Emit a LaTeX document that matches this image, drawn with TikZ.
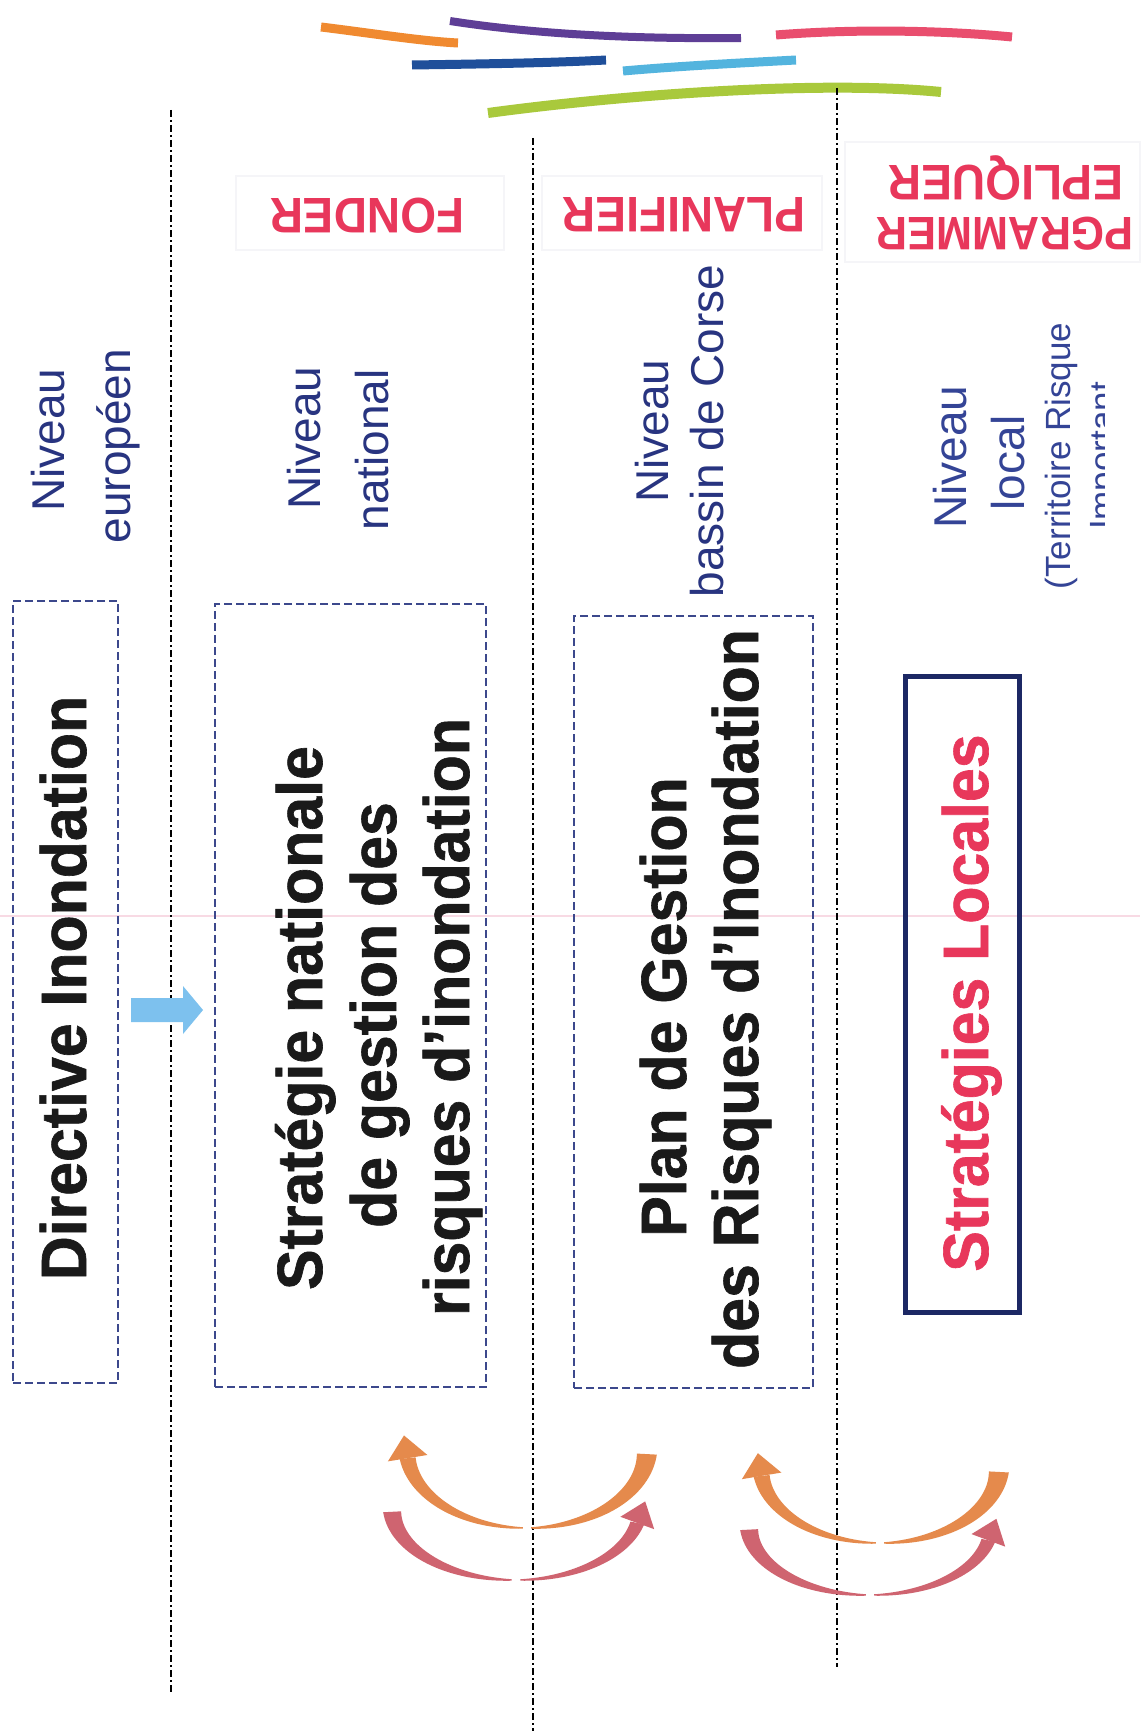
\documentclass[tikz,border=0pt]{standalone}
\usepackage{fontspec}
\setmainfont{Liberation Sans}
\newfontfamily\condf[FakeStretch=0.95,FakeBold=1]{Liberation Sans}
\newfontfamily\headf[FakeStretch=0.92]{Liberation Sans}
\usetikzlibrary{calc}
\definecolor{navy}{RGB}{40,52,128}
\definecolor{navyl}{RGB}{52,68,150}
\definecolor{boxnavy}{RGB}{60,72,140}
\definecolor{solidnavy}{RGB}{28,40,100}
\definecolor{redt}{RGB}{232,55,91}
\definecolor{txtblack}{RGB}{26,26,26}
\definecolor{arrblue}{RGB}{125,193,238}
\definecolor{arcorange}{RGB}{229,138,76}
\definecolor{arcrose}{RGB}{207,100,112}
\definecolor{sorange}{RGB}{240,138,48}
\definecolor{spurple}{RGB}{94,62,150}
\definecolor{spink}{RGB}{233,78,110}
\definecolor{sdblue}{RGB}{31,79,154}
\definecolor{slblue}{RGB}{83,180,222}
\definecolor{sgreen}{RGB}{169,201,60}
\definecolor{pinkfaint}{RGB}{248,218,228}
\definecolor{framefaint}{RGB}{245,245,248}
% tapered elliptic arc: cx cy rx ry t0 t1 w0 w1 colour
\newcommand{\tarc}[9]{%
  \fill[#9] plot[domain=#5:#6,samples=40,variable=\t]
   ({#1+(#3+0.5*(#7+(#8-#7)*(\t-#5)/(#6-#5)))*cos(\t)},{#2+(#4+0.5*(#7+(#8-#7)*(\t-#5)/(#6-#5)))*sin(\t)})
   -- plot[domain=#6:#5,samples=40,variable=\t]
   ({#1+(#3-0.5*(#7+(#8-#7)*(\t-#5)/(#6-#5)))*cos(\t)},{#2+(#4-0.5*(#7+(#8-#7)*(\t-#5)/(#6-#5)))*sin(\t)})
   -- cycle;}
% arrow head on elliptic arc: cx cy rx ry t sign halfwidth length colour
\newcommand{\thead}[9]{%
  \pgfmathsetmacro\hpx{#1+#3*cos(#5)}%
  \pgfmathsetmacro\hpy{#2+#4*sin(#5)}%
  \pgfmathsetmacro\hang{atan2((#6)*#4*cos(#5),-(#6)*#3*sin(#5))}%
  \fill[#9] ({\hpx+#7*cos(\hang+90)},{\hpy+#7*sin(\hang+90)})
    -- ({\hpx+#8*cos(\hang)},{\hpy+#8*sin(\hang)})
    -- ({\hpx-#7*cos(\hang+90)},{\hpy-#7*sin(\hang+90)}) -- cycle;}
\begin{document}
\begin{tikzpicture}[x=1pt,y=-1pt,
  lbl/.style={rotate=90,anchor=base,inner sep=0pt,text=navy,font=\fontsize{46}{52}\selectfont},
  big/.style={rotate=90,anchor=base,inner sep=0pt,text=txtblack,font=\condf\bfseries\fontsize{64}{74}\selectfont},
  hdr/.style={rotate=180,anchor=base,inner sep=0pt,text=redt,font=\headf\bfseries\fontsize{50}{56}\selectfont},
  dbox/.style={draw=boxnavy,line width=2pt,dash pattern=on 8pt off 4pt,rectangle,inner sep=0pt},
  sbox/.style={draw=solidnavy,line width=5pt,rectangle,inner sep=0pt},
  level/.style={draw=black,line width=2.6pt,dash pattern=on 7pt off 3pt on 2pt off 3pt},
  stroke/.style={line width=9pt,line cap=butt}]
\useasboundingbox (0,0) rectangle (1140,1731);
\fill[white] (0,0) rectangle (1140,1731);
\draw[pinkfaint,line width=1.2pt] (0,916) -- (1140,916);

% faint header frames
\draw[framefaint,line width=1.5pt] (236,176) rectangle (504,250);
\draw[framefaint,line width=1.5pt] (542,176) rectangle (822,250);
\draw[framefaint,line width=1.5pt] (845,142) rectangle (1140,262);

% logo strokes
\draw[stroke,sorange] (321,27) .. controls (370,33) and (420,41) .. (458,43);
\draw[stroke,spurple,line width=8pt] (450,21) .. controls (540,35) and (640,39) .. (741,38);
\draw[stroke,spink] (776,35) .. controls (850,29) and (940,30) .. (1012,37);
\draw[stroke,sdblue] (412,65) .. controls (480,64) and (550,63) .. (606,60);
\draw[stroke,slblue] (623,71) .. controls (680,66) and (740,63) .. (796,60);
\draw[stroke,sgreen,line width=10pt] (488,113) .. controls (620,95) and (820,80) .. (941,92);

% level separators
\draw[level] (171,110) -- (171,1694);
\draw[level] (533,138) -- (533,1731);
\draw[level] (837,88) -- (837,1667);

% headers
\node[hdr] (h1) at (367,198) {FONDER};
\node[hdr] (h2) at (684,197) {PLANIFIER};
\node[hdr,font=\headf\bfseries\fontsize{47}{54}\selectfont] (h3a) at (1005,217) {PGRAMMER};
\node[hdr] (h3b) at (1006,166) {EPLIQUER};

% level labels
\node[lbl] (n1a) at (64,440) {Niveau};
\node[lbl] (n1b) at (130,446) {européen};
\node[lbl] (n2a) at (320,438) {Niveau};
\node[lbl] (n2b) at (388,450) {national};
\node[lbl] (n3a) at (668,431) {Niveau};
\node[lbl] (n3b) at (723,431) {bassin de Corse};
\node[lbl,text=navyl] (n4a) at (966,457) {Niveau};
\node[lbl,text=navyl] (n4b) at (1024,463) {local};
\node[lbl,text=navyl,font=\fontsize{35}{40}\selectfont] (n4c) at (1070,456) {(Territoire Risque};
\begin{scope}
\clip (0,0) rectangle (1104,1731);
\node[lbl,text=navyl,font=\fontsize{35}{40}\selectfont] (n4d) at (1114,456) {Important};
\end{scope}

% boxes
\node[dbox,minimum width=105pt,minimum height=782pt] (d1) at (65.5,992) {};
\node[dbox,minimum width=271pt,minimum height=783pt] (s2) at (350.5,995.5) {};
\node[dbox,minimum width=239pt,minimum height=772pt] (p3) at (693.5,1002) {};
\node[sbox,minimum width=114pt,minimum height=636pt] (l4) at (962,994) {};

% box texts
\node[big] (di) at (86,988) {Directive Inondation};
\node[big] (sn1) at (322,1018) {Stratégie nationale};
\node[big] (sn2) at (396,1015) {de gestion des};
\node[big] (sn3) at (469,1017) {risques d’inondation};
\node[big] (pg1) at (686,1007) {Plan de Gestion};
\node[big] (pg2) at (758,999) {des Risques d’Inondation};
\node[big,text=redt] (sl) at (988,1003) {Stratégies Locales};

% blue block arrow between the first two boxes
\coordinate (ab) at ($(d1.east)+(12,18)$);
\fill[arrblue] (ab) ++(0,-12) -- ++(52,0) -- ++(0,-12) -- ++(20,24) -- ++(-20,24) -- ++(0,-12) -- ++(-52,0) -- cycle;

% curved arrows, pair 1
\tarc{527}{1450}{120}{78}{3}{88}{20}{1.5}{arcorange}
\tarc{527}{1450}{120}{78}{92}{174}{1.5}{16}{arcorange}
\thead{527}{1450}{120}{78}{174}{1}{20}{23}{arcorange}
\tarc{516}{1508}{124}{72}{177}{92}{18}{1.5}{arcrose}
\tarc{516}{1508}{124}{72}{88}{12}{1.5}{14}{arcrose}
\thead{516}{1508}{124}{72}{12}{-1}{18}{23}{arcrose}
% curved arrows, pair 2
\tarc{880}{1468}{119}{75}{3}{88}{20}{1.5}{arcorange}
\tarc{880}{1468}{119}{75}{92}{174}{1.5}{16}{arcorange}
\thead{880}{1468}{119}{75}{174}{1}{20}{23}{arcorange}
\tarc{870}{1526}{121}{69}{177}{92}{18}{1.5}{arcrose}
\tarc{870}{1526}{121}{69}{88}{12}{1.5}{14}{arcrose}
\thead{870}{1526}{121}{69}{12}{-1}{18}{23}{arcrose}
\end{tikzpicture}
\end{document}
